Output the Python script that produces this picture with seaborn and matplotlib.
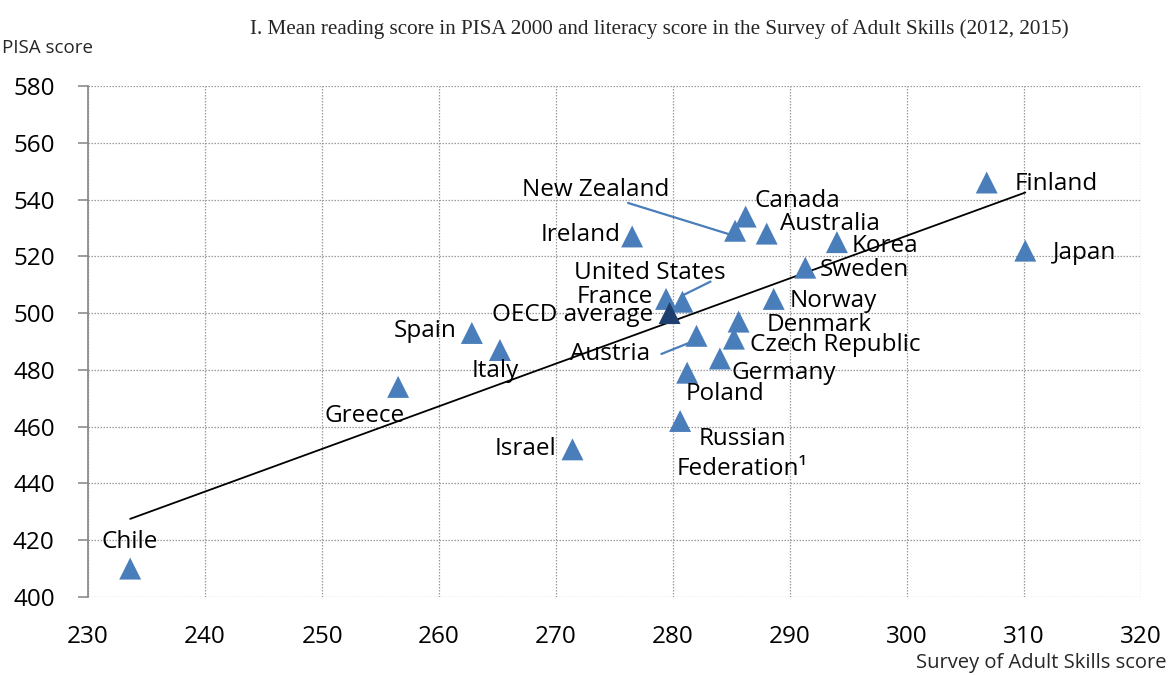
import numpy as np
import pandas as pd
import matplotlib
matplotlib.use("Agg")
import matplotlib.pyplot as plt
import seaborn as sns

# ---- data ----
countries = ["Chile", "Greece", "Spain", "Italy", "Israel", "Ireland", "France",
             "United States", "Russian Federation", "Poland", "Austria", "Germany",
             "Czech Republic", "New Zealand", "Denmark", "Canada", "Australia",
             "Norway", "Sweden", "Korea", "Finland", "Japan"]
adult_skills = [233.6, 256.5, 262.8, 265.2, 271.4, 276.5, 279.4,
                280.8, 280.6, 281.2, 282.0, 284.0,
                285.2, 285.3, 285.6, 286.2, 288.0,
                288.6, 291.3, 294.0, 306.8, 310.1]
pisa = [410, 474, 493, 487, 452, 527, 505,
        504, 462, 479, 492, 484,
        491, 529, 497, 534, 528,
        505, 516, 525, 546, 522]
oecd_name = ["OECD average"]
oecd_adult = [279.7]
oecd_pisa = [500]

x_ticks = [230, 240, 250, 260, 270, 280, 290, 300, 310, 320]
y_ticks = [400, 420, 440, 460, 480, 500, 520, 540, 560, 580]

title = "I. Mean reading score in PISA 2000 and literacy score in the Survey of Adult Skills (2012, 2015)"
y_label = "PISA score"
x_label = "Survey of Adult Skills score"

df = pd.DataFrame({"country": countries, "adult": adult_skills, "pisa": pisa})
df_oecd = pd.DataFrame({"country": oecd_name, "adult": oecd_adult, "pisa": oecd_pisa})

# ---- label placement (annotation layout) ----
# name: (x, y, ha)
label_pos = {
    "Finland": (309.2, 545.5, "left"),
    "Japan": (312.5, 521.2, "left"),
    "Korea": (295.3, 523.6, "left"),
    "Sweden": (292.5, 515.2, "left"),
    "Canada": (287.0, 539.6, "left"),
    "Australia": (289.1, 531.5, "left"),
    "New Zealand": (273.4, 543.4, "center"),
    "Ireland": (275.5, 527.6, "right"),
    "United States": (278.0, 514.1, "center"),
    "France": (278.3, 505.7, "right"),
    "OECD average": (278.3, 499.3, "right"),
    "Norway": (290.0, 504.3, "left"),
    "Denmark": (288.0, 495.8, "left"),
    "Czech Republic": (286.6, 488.8, "left"),
    "Austria": (278.0, 485.6, "right"),
    "Germany": (285.0, 478.9, "left"),
    "Poland": (281.1, 471.5, "left"),
    "Italy": (264.8, 479.6, "center"),
    "Spain": (261.5, 493.6, "right"),
    "Greece": (253.6, 463.8, "center"),
    "Israel": (270.0, 452.2, "right"),
    "Russian Federation": (285.9, 450.4, "center"),
    "Chile": (233.6, 419.4, "center"),
}
leaders = {
    "New Zealand": ((276.15, 538.8), (284.7, 527.9)),
    "United States": ((283.2, 511.1), (280.9, 506.4)),
    "Austria": ((279.0, 485.6), (281.6, 489.9)),
}
display_names = {"Russian Federation": "Russian\nFederation\u00b9"}

# ---- figure ----
sns.set_theme(style="white")
plt.rcParams["font.family"] = ["Open Sans", "DejaVu Sans"]

fig = plt.figure(figsize=(11.74, 6.75), dpi=100)
ax = fig.add_axes([0.075, 0.1156, 0.897, 0.757])

blue = "#4a7ebb"
dark = "#1f3f6e"

sns.regplot(data=df, x="adult", y="pisa", ax=ax, scatter=False, ci=None,
            truncate=True, line_kws={"color": "black", "lw": 1.3, "zorder": 2})
sns.scatterplot(data=df, x="adult", y="pisa", ax=ax, marker="^", s=250,
                color=blue, edgecolor="none", zorder=3, legend=False)
sns.scatterplot(data=df_oecd, x="adult", y="pisa", ax=ax, marker="^", s=250,
                color=dark, edgecolor="none", zorder=4, legend=False)

for name, (tx, ty, ha) in label_pos.items():
    ax.text(tx, ty, display_names.get(name, name), ha=ha, va="center",
            fontsize=17.5, color="black", zorder=5, linespacing=1.3)

for name, (p0, p1) in leaders.items():
    ax.plot([p0[0], p1[0]], [p0[1], p1[1]], color=blue, lw=1.6, zorder=2)

ax.set_xlim(230, 320)
ax.set_ylim(400, 580)
ax.set_xticks(x_ticks)
ax.set_yticks(y_ticks)
ax.set_xticklabels([str(v) for v in x_ticks], fontsize=17.5, color="black")
ax.set_yticklabels([str(v) for v in y_ticks], fontsize=17.5, color="black")
ax.set_xlabel("")
ax.set_ylabel("")

ax.grid(True, color="#9a9a9a", linestyle=(0, (1.2, 1.2)), lw=0.9)
ax.set_axisbelow(True)
for s in ["top", "right", "bottom"]:
    ax.spines[s].set_visible(False)
ax.spines["left"].set_color("#8c8c8c")
ax.spines["left"].set_linewidth(1.3)
ax.tick_params(axis="y", which="major", direction="out", length=7, width=1.2,
               color="#8c8c8c", left=True, pad=17)
ax.tick_params(axis="x", which="major", length=0, pad=20)

fig.text(0.562, 0.957, title, ha="center", va="center", fontsize=15.2,
         family="Liberation Serif")
fig.text(0.002, 0.929, y_label, ha="left", va="center", fontsize=13.5)
fig.text(0.994, 0.018, x_label, ha="right", va="center", fontsize=14.5)

fig.savefig("out.png", dpi=100)
